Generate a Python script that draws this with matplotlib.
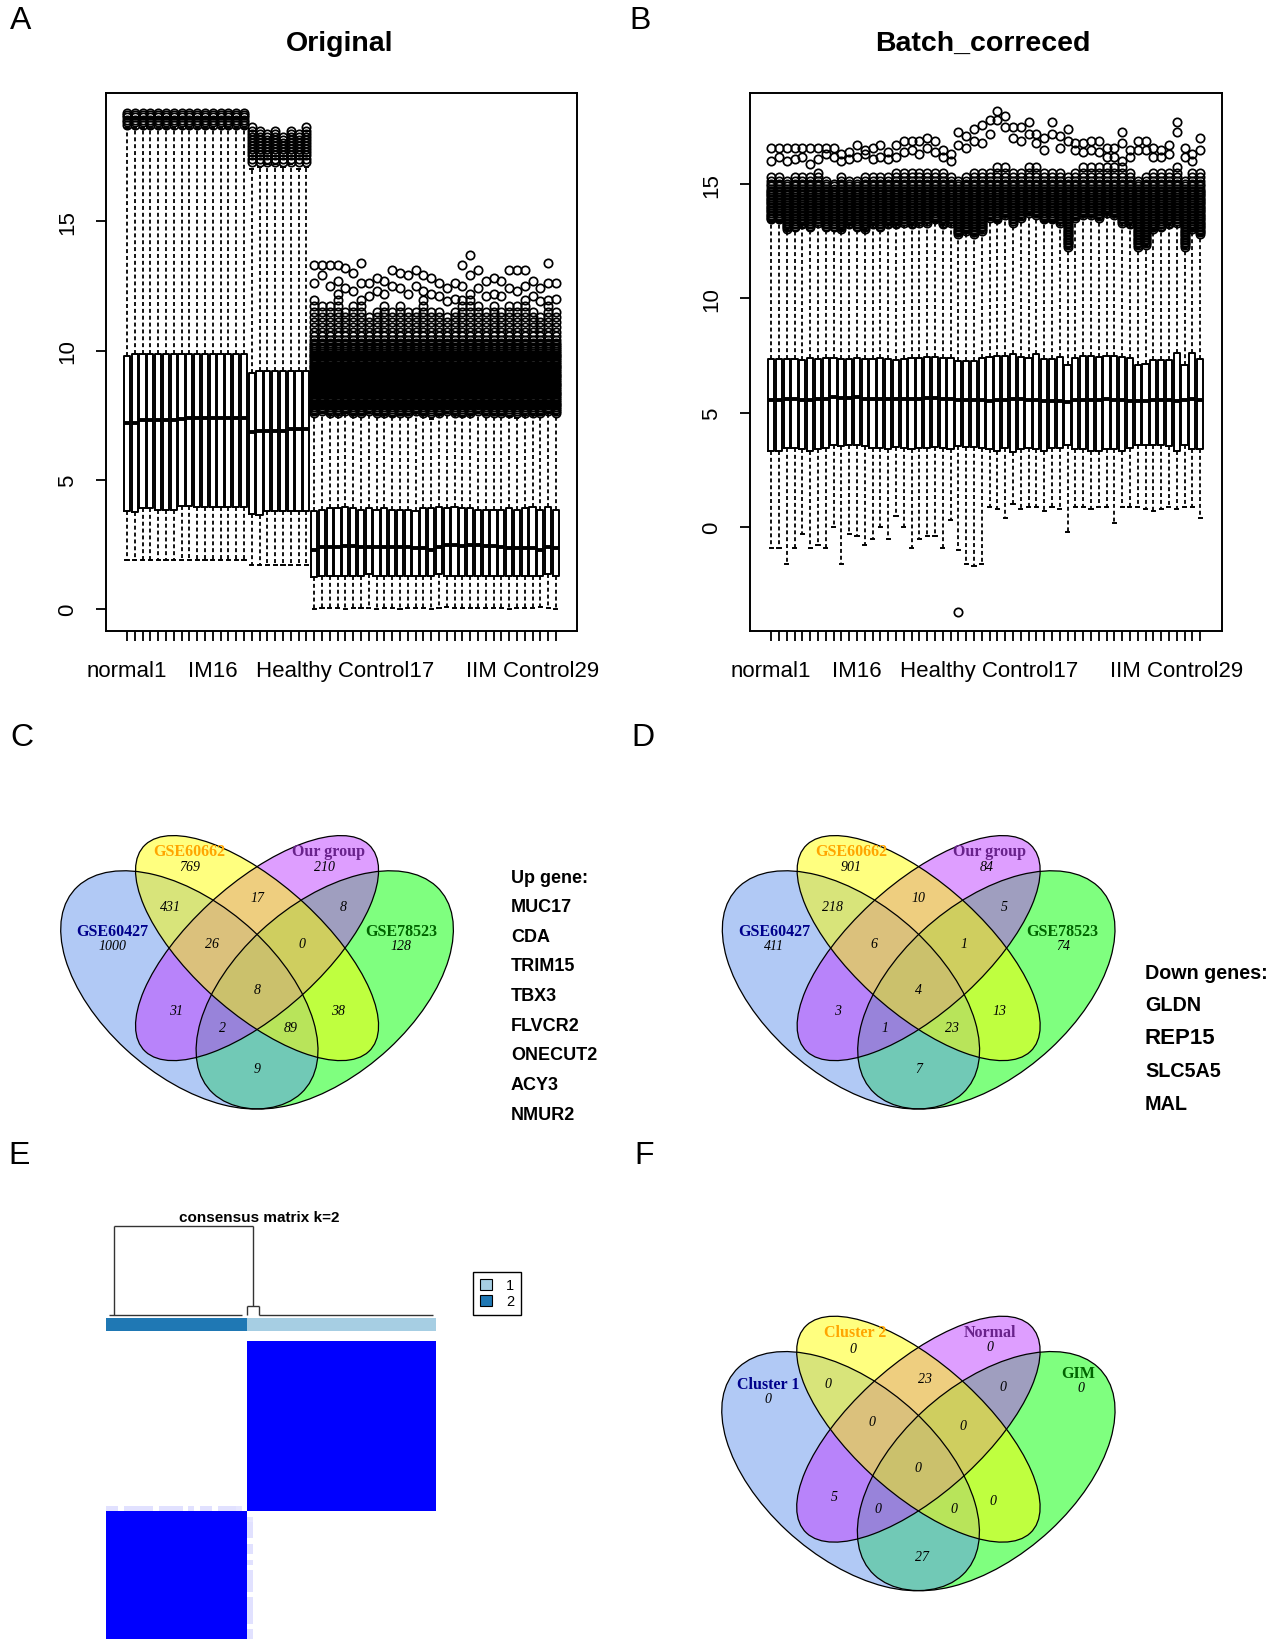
import numpy as np
import matplotlib
matplotlib.use("Agg")
import matplotlib.pyplot as plt
from matplotlib.patches import Ellipse, Patch
from matplotlib.colors import LinearSegmentedColormap

plt.rcParams["font.family"] = ["Liberation Sans", "DejaVu Sans"]

W, H = 1280, 1640

# ---------------- A: original expression, per-sample box stats ----------------
a_group_sizes = [16, 8, 32]
shown_labels = {1: "normal1", 12: "IM16", 29: "Healthy Control17", 53: "IIM Control29"}

a_q1 = [3.8, 3.75, 3.9, 3.9, 3.85, 3.85, 3.85, 4.0, 4.0, 3.95, 3.95, 3.95, 3.95, 3.95, 3.95, 3.95,
        3.7, 3.65, 3.8, 3.8, 3.8, 3.8, 3.8, 3.8,
        1.25, 1.3, 1.3, 1.3, 1.3, 1.3, 1.3, 1.35, 1.3, 1.3, 1.3, 1.3, 1.3, 1.3, 1.3, 1.3,
        1.35, 1.3, 1.3, 1.3, 1.3, 1.3, 1.3, 1.3, 1.3, 1.3, 1.3, 1.3, 1.3, 1.3, 1.35, 1.3]
a_med = [7.2, 7.2, 7.3, 7.3, 7.3, 7.3, 7.3, 7.35, 7.4, 7.4, 7.4, 7.4, 7.4, 7.4, 7.4, 7.4,
         6.85, 6.9, 6.9, 6.9, 6.9, 6.95, 6.95, 6.95,
         2.3, 2.4, 2.4, 2.4, 2.45, 2.45, 2.4, 2.4, 2.4, 2.4, 2.4, 2.4, 2.4, 2.35, 2.35, 2.3,
         2.4, 2.5, 2.5, 2.45, 2.5, 2.5, 2.45, 2.45, 2.4, 2.35, 2.35, 2.35, 2.35, 2.3, 2.4, 2.35]
a_q3 = [9.8, 9.85, 9.85, 9.85, 9.85, 9.85, 9.85, 9.85, 9.85, 9.85, 9.85, 9.85, 9.85, 9.85, 9.85, 9.85,
        9.15, 9.2, 9.2, 9.2, 9.2, 9.2, 9.2, 9.2,
        3.8, 3.85, 3.9, 3.9, 3.95, 3.9, 3.85, 3.9, 3.85, 3.9, 3.85, 3.85, 3.85, 3.8, 3.9, 3.9,
        3.95, 3.9, 3.95, 3.9, 3.9, 3.85, 3.85, 3.85, 3.85, 3.9, 3.85, 3.9, 3.95, 3.85, 3.95, 3.85]
a_lo = [1.9, 1.9, 1.9, 1.9, 1.9, 1.9, 1.9, 1.9, 1.9, 1.9, 1.9, 1.9, 1.9, 1.9, 1.9, 1.9,
        1.7, 1.7, 1.7, 1.7, 1.7, 1.7, 1.7, 1.7,
        0.0, 0.05, 0.05, 0.05, 0.0, 0.05, 0.05, 0.05, 0.0, 0.05, 0.05, 0.0, 0.05, 0.05, 0.05, 0.0,
        0.05, 0.1, 0.05, 0.05, 0.05, 0.05, 0.05, 0.05, 0.05, 0.0, 0.05, 0.05, 0.05, 0.1, 0.05, 0.0]
a_hi = [18.6, 18.6, 18.6, 18.6, 18.6, 18.6, 18.6, 18.6, 18.6, 18.6, 18.6, 18.6, 18.6, 18.6, 18.6, 18.6,
        17.0, 17.1, 17.2, 17.2, 17.1, 17.2, 17.0, 17.1,
        7.5, 7.6, 7.55, 7.55, 7.6, 7.5, 7.55, 7.6, 7.55, 7.5, 7.45, 7.5, 7.55, 7.6, 7.5, 7.35,
        7.5, 7.6, 7.55, 7.45, 7.5, 7.6, 7.5, 7.55, 7.5, 7.45, 7.4, 7.5, 7.55, 7.5, 7.6, 7.55]
# levels where outlier circles pile up, per group
a_dense_levels = [
    [18.72, 18.82, 18.92, 19.02, 19.12, 19.2],
    [17.3, 17.42, 17.54, 17.66, 17.78, 17.9, 18.02, 18.14, 18.26, 18.38, 18.5, 18.65],
    [7.6, 7.67, 7.74, 7.81, 7.88, 7.95, 8.02, 8.09, 8.16, 8.23, 8.3, 8.37, 8.44, 8.51, 8.58,
     8.65, 8.72, 8.79, 8.86, 8.93, 9.0, 9.07, 9.14, 9.21, 9.28, 9.35, 9.42, 9.49, 9.56, 9.63,
     9.7, 9.77, 9.84, 9.91, 9.98, 10.05, 10.12, 10.2, 10.3, 10.42, 10.56, 10.72, 10.9, 11.1,
     11.3, 11.5, 11.72, 11.95, 12.2],
]
a_dense_top = [19.2, 19.2, 19.2, 19.2, 19.2, 19.2, 19.2, 19.2, 19.2, 19.2, 19.2, 19.2, 19.2, 19.2, 19.2, 19.2,
               18.7, 18.5, 18.4, 18.5, 18.3, 18.5, 18.4, 18.7,
               12.0, 11.8, 11.9, 12.2, 11.6, 11.8, 12.0, 11.4, 11.7, 11.8, 11.6, 11.9, 11.7, 11.5, 12.0, 11.6,
               11.5, 11.3, 11.6, 12.0, 12.2, 11.9, 11.5, 11.8, 11.6, 11.9, 11.9, 12.0, 11.6, 11.3, 12.0, 11.5]
a_top1 = [None] * 24 + [
    13.3, 13.3, 13.3, 13.3, 13.2, 13.0, 13.4, 12.6, 12.8, 12.7, 13.1, 13.0, 12.9, 13.1, 12.9, 12.8,
    12.6, 12.4, 12.6, 13.3, 13.7, 13.1, 12.7, 12.8, 12.7, 13.1, 13.1, 13.1, 12.7, 12.4, 13.4, 12.6]
a_top2 = [None] * 24 + [
    12.6, 12.9, 12.5, 12.7, 12.4, 12.3, 12.6, 12.1, 12.3, 12.2, 12.5, 12.4, 12.2, 12.5, 12.3, 12.2,
    12.1, 11.9, 12.0, 12.5, 12.9, 12.4, 12.1, 12.2, 12.1, 12.4, 12.3, 12.5, 12.1, 11.9, 12.6, 12.0]

# ---------------- B: batch corrected ----------------
b_q1 = [3.35, 3.35, 3.45, 3.45, 3.4, 3.35, 3.4, 3.45, 3.6, 3.55, 3.6, 3.6, 3.55, 3.45, 3.45, 3.4,
        3.5, 3.45, 3.4, 3.45, 3.45, 3.5, 3.45, 3.4, 3.55, 3.5, 3.5, 3.45, 3.4, 3.35, 3.45, 3.3,
        3.4, 3.45, 3.4, 3.35, 3.45, 3.45, 3.6, 3.4, 3.4, 3.35, 3.35, 3.4, 3.4, 3.35, 3.45, 3.6,
        3.6, 3.6, 3.6, 3.55, 3.35, 3.6, 3.4, 3.4]
b_med = [5.55, 5.55, 5.6, 5.6, 5.55, 5.55, 5.6, 5.6, 5.7, 5.65, 5.65, 5.7, 5.6, 5.6, 5.6, 5.6,
         5.6, 5.6, 5.6, 5.6, 5.65, 5.65, 5.6, 5.6, 5.55, 5.55, 5.55, 5.55, 5.5, 5.55, 5.55, 5.6,
         5.6, 5.55, 5.55, 5.5, 5.5, 5.5, 5.45, 5.55, 5.55, 5.55, 5.55, 5.6, 5.55, 5.55, 5.5, 5.5,
         5.5, 5.55, 5.55, 5.55, 5.5, 5.55, 5.6, 5.55]
b_q3 = [7.35, 7.35, 7.35, 7.35, 7.3, 7.4, 7.35, 7.4, 7.4, 7.35, 7.35, 7.4, 7.35, 7.35, 7.4, 7.35,
        7.3, 7.35, 7.4, 7.4, 7.45, 7.45, 7.4, 7.4, 7.25, 7.25, 7.25, 7.4, 7.45, 7.5, 7.5, 7.55,
        7.45, 7.4, 7.55, 7.35, 7.35, 7.45, 7.1, 7.4, 7.5, 7.5, 7.45, 7.5, 7.5, 7.45, 7.4, 7.1,
        7.15, 7.3, 7.3, 7.3, 7.6, 7.1, 7.6, 7.35]
b_lo = [-0.9, -0.9, -1.6, -0.9, -0.3, -0.9, -0.8, -0.9, 0.0, -1.6, -0.3, -0.4, -0.8, -0.5, 0.0, -0.5,
        0.5, 0.0, -0.9, -0.5, -0.4, -0.4, -0.9, 0.3, -1.0, -1.6, -1.7, -1.6, 0.9, 0.8, 0.4, 1.0,
        0.8, 0.9, 0.9, 0.7, 0.9, 0.8, -0.2, 0.9, 0.9, 0.8, 0.9, 0.9, 0.2, 0.9, 0.9, 0.9,
        0.8, 0.7, 0.8, 0.9, 0.8, 0.9, 0.9, 0.4]
b_hi = [13.4, 13.4, 13.0, 13.1, 13.2, 13.1, 13.3, 13.1, 13.1, 13.0, 13.2, 13.1, 13.0, 13.2, 13.1, 13.2,
        13.2, 13.3, 13.2, 13.3, 13.3, 13.4, 13.2, 13.3, 12.8, 12.9, 12.8, 12.9, 13.5, 13.4, 13.6, 13.3,
        13.5, 13.7, 13.6, 13.4, 13.4, 13.3, 12.2, 13.5, 13.6, 13.6, 13.5, 13.7, 13.6, 13.3, 13.2, 12.2,
        12.3, 13.0, 13.1, 13.2, 13.3, 12.2, 13.0, 12.8]
b_dense_levels = [12.2, 12.27, 12.34, 12.41, 12.48, 12.55, 12.62, 12.69, 12.76, 12.83, 12.9, 12.97,
                  13.04, 13.11, 13.18, 13.25, 13.32, 13.39, 13.46, 13.53, 13.6, 13.67, 13.74, 13.81,
                  13.88, 13.95, 14.02, 14.09, 14.16, 14.23, 14.3, 14.37, 14.44, 14.51, 14.58, 14.65,
                  14.72, 14.8, 14.9, 15.0, 15.15, 15.3, 15.5, 15.75, 16.0]
b_dense_top = [15.4, 15.3, 15.2, 15.3, 15.3, 15.4, 15.5, 15.2, 15.1, 15.3, 15.2, 15.2, 15.3, 15.3, 15.4, 15.4,
               15.5, 15.6, 15.6, 15.6, 15.6, 15.5, 15.5, 15.3, 15.2, 15.3, 15.5, 15.6, 15.7, 15.8, 15.8, 15.6,
               15.7, 15.8, 15.8, 15.6, 15.5, 15.5, 15.3, 15.7, 15.8, 15.9, 15.8, 15.8, 15.9, 16.0, 15.6, 15.2,
               15.4, 15.6, 15.6, 15.7, 15.8, 15.2, 15.6, 15.6]
b_top1 = [16.6, 16.6, 16.6, 16.6, 16.6, 16.6, 16.6, 16.6, 16.6, 16.3, 16.4, 16.7, 16.5, 16.6, 16.7, 16.4,
          16.7, 16.9, 16.9, 16.9, 17.0, 16.9, 16.5, 16.3, 17.3, 17.1, 17.4, 17.6, 17.8, 18.2, 18.0, 17.5,
          17.5, 17.7, 17.2, 17.0, 17.7, 17.1, 17.4, 16.8, 16.8, 16.9, 16.9, 16.6, 16.6, 17.3, 16.5, 16.9,
          16.9, 16.6, 16.5, 16.7, 17.7, 16.6, 16.3, 17.0]
b_top2 = [16.0, 16.2, 16.0, 16.1, 16.2, 15.9, 16.1, 16.3, 16.2, 16.0, 16.1, 16.2, 16.3, 16.1, 16.2, 16.1,
          16.2, 16.4, 16.5, 16.3, 16.6, 16.4, 16.2, 16.0, 16.7, 16.6, 16.9, 16.8, 17.2, 17.8, 17.5, 17.0,
          16.9, 17.2, 16.8, 16.5, 17.2, 16.6, 16.9, 16.5, 16.4, 16.5, 16.4, 16.2, 16.2, 16.8, 16.2, 16.5,
          16.5, 16.2, 16.2, 16.3, 17.3, 16.2, 16.0, 16.5]
b_low_outlier = {25: -3.7}

# ---------------- C / D / F: Venn counts ----------------
c_sets = ["GSE60427", "GSE60662", "Our group", "GSE78523"]
c_only = [1000, 769, 210, 128]
c_regions = [431, 17, 8, 26, 0, 8, 31, 38, 2, 89, 9]
up_genes = ["MUC17", "CDA", "TRIM15", "TBX3", "FLVCR2", "ONECUT2", "ACY3", "NMUR2"]

d_sets = ["GSE60427", "GSE60662", "Our group", "GSE78523"]
d_only = [411, 901, 84, 74]
d_regions = [218, 10, 5, 6, 1, 4, 3, 13, 1, 23, 7]
down_genes = ["GLDN", "REP15", "SLC5A5", "MAL"]

f_sets = ["Cluster 1", "Cluster 2", "Normal", "GIM"]
f_only = [0, 0, 0, 0]
f_regions = [0, 23, 0, 0, 0, 0, 5, 0, 0, 0, 27]

# ---------------- E: consensus clustering k=2 ----------------
cluster_sizes = [24, 32]
cluster_ids = [2, 1]
# consensus of the first cluster-1 sample with every cluster-2 sample
edge_sample_consensus = [0.12, 0.12, 0.0, 0.12, 0.12, 0.12, 0.12, 0.12, 0.0, 0.12, 0.12, 0.12,
                         0.12, 0.0, 0.12, 0.0, 0.12, 0.12, 0.0, 0.12, 0.12, 0.12, 0.1, 0.0]
dendro_x = [[1.41, 1.41], [24.94, 24.94], [1.41, 24.94], [24.03, 24.03], [26.07, 26.07],
            [24.03, 26.07], [0.61, 23.1], [26.07, 55.59]]
dendro_h = [[0, 1], [0.104, 1], [1, 1], [0, 0.104], [0, 0.104],
            [0.104, 0.104], [0, 0], [0, 0]]

fig = plt.figure(figsize=(W / 100, H / 100), dpi=100)


def px_axes(left, top, right, bottom):
    return fig.add_axes([left / W, 1 - bottom / H, (right - left) / W, (bottom - top) / H])


def ftext(x, y, s, **kw):
    fig.text(x / W, 1 - y / H, s, **kw)


def box_panel(ax, q1, med, q3, lo, hi, fliers, ylim, yticks):
    n = len(med)
    stats = [dict(med=med[i], q1=q1[i], q3=q3[i], whislo=lo[i], whishi=hi[i], fliers=fliers[i])
             for i in range(n)]
    pos = np.arange(1, n + 1)
    ax.bxp(stats, positions=pos, widths=0.8, capwidths=0.4,
           boxprops=dict(lw=1.4, color="black"),
           medianprops=dict(lw=2.8, color="black"),
           whiskerprops=dict(lw=1.3, color="black", ls=(0, (2.2, 1.6))),
           capprops=dict(lw=1.4, color="black"),
           flierprops=dict(marker="o", mfc="none", mec="black", ms=6.0, mew=1.25))
    ax.set_xlim(0.5 - 0.04 * n, n + 0.5 + 0.04 * n)
    ax.set_ylim(*ylim)
    ax.set_xticks(pos)
    ax.set_xticklabels([shown_labels.get(p, "") for p in pos], fontsize=16)
    ax.set_yticks(yticks)
    ax.set_yticklabels([str(t) for t in yticks], fontsize=16, rotation=90, va="center")
    ax.tick_params(axis="x", length=7, width=1.3, pad=14)
    ax.tick_params(axis="y", length=7, width=1.3, pad=13)
    for s in ax.spines.values():
        s.set_linewidth(1.4)


# panel A
a_group = sum([[g] * n for g, n in enumerate(a_group_sizes)], [])
a_fliers = []
for i in range(len(a_med)):
    pts = [v for v in a_dense_levels[a_group[i]] if a_hi[i] < v <= a_dense_top[i]]
    pts += [v for v in (a_top1[i], a_top2[i]) if v is not None]
    a_fliers.append(pts)
ax_a = px_axes(105.6, 94.1, 577.3, 631.7)
box_panel(ax_a, a_q1, a_med, a_q3, a_lo, a_hi, a_fliers, (-0.83, 19.95), [0, 5, 10, 15])

# panel B
b_fliers = []
for i in range(len(b_med)):
    pts = [v for v in b_dense_levels if b_hi[i] < v <= b_dense_top[i]] + [b_top1[i], b_top2[i]]
    if i + 1 in b_low_outlier:
        pts.append(b_low_outlier[i + 1])
    b_fliers.append(pts)
ax_b = px_axes(749.8, 94.1, 1221.5, 631.7)
box_panel(ax_b, b_q1, b_med, b_q3, b_lo, b_hi, b_fliers, (-4.53, 18.98), [0, 5, 10, 15])

ftext(340, 44, "Original", fontsize=20.5, fontweight="bold", ha="center", va="center")
ftext(983, 44, "Batch_correced", fontsize=20.5, fontweight="bold", ha="center", va="center")

# ---------------- Venn panels ----------------
ell_fill = ["#6495ED", "#FFFF00", "#BF3EFF", "#00FF00"]   # cornflowerblue, yellow, darkorchid1, green
name_colors = ["#00008B", "#FFA500", "#68228B", "#006400"]
ellipses = [((0.35, 0.47), 0.70, 0.40, -45), ((0.50, 0.57), 0.70, 0.30, -45),
            ((0.50, 0.57), 0.70, 0.30, 45), ((0.65, 0.47), 0.70, 0.40, 45)]
draw_order = [3, 0, 2, 1]

cd_name_pos = [(0.180, 0.611), (0.350, 0.803), (0.658, 0.803), (0.819, 0.611)]
cd_only_pos = [(0.180, 0.577), (0.350, 0.766), (0.650, 0.766), (0.820, 0.577)]
cd_region_pos = [(0.309, 0.670), (0.5, 0.690), (0.690, 0.670), (0.401, 0.580), (0.600, 0.580),
                 (0.5, 0.470), (0.320, 0.420), (0.680, 0.420), (0.4245, 0.380), (0.575, 0.380),
                 (0.5, 0.281)]
f_name_pos = [(0.168, 0.678), (0.360, 0.801), (0.658, 0.801), (0.854, 0.704)]
f_only_pos = [(0.168, 0.642), (0.356, 0.763), (0.658, 0.766), (0.860, 0.670)]
f_region_pos = [(0.301, 0.680), (0.515, 0.692), (0.686, 0.672), (0.398, 0.589), (0.599, 0.578),
                (0.500, 0.478), (0.315, 0.410), (0.666, 0.401), (0.411, 0.380), (0.579, 0.380),
                (0.507, 0.266)]


def venn4(ax, names, only, regions, name_pos, only_pos, region_pos):
    for k in draw_order:
        c, w, h, ang = ellipses[k]
        ax.add_patch(Ellipse(c, w, h, angle=ang, fc=ell_fill[k], alpha=0.5, lw=0))
    for k in range(4):
        c, w, h, ang = ellipses[k]
        ax.add_patch(Ellipse(c, w, h, angle=ang, fill=False, ec="black", lw=0.9))
    serif = ["Liberation Serif", "DejaVu Serif"]
    for k in range(4):
        ax.text(*name_pos[k], names[k], color=name_colors[k], fontsize=11.5, fontweight="bold",
                family=serif, ha="center", va="center")
        ax.text(*only_pos[k], str(only[k]), fontsize=10, style="italic", family=serif,
                ha="center", va="center")
    for p, v in zip(region_pos, regions):
        ax.text(*p, str(v), fontsize=10, style="italic", family=serif, ha="center", va="center")
    ax.set_xlim(0, 1)
    ax.set_ylim(0, 1)
    ax.axis("off")


ax_c = px_axes(31.4, 769.4, 482.7, 1187.3)
venn4(ax_c, c_sets, c_only, c_regions, cd_name_pos, cd_only_pos, cd_region_pos)
ax_d = px_axes(693.0, 769.4, 1144.3, 1187.3)
venn4(ax_d, d_sets, d_only, d_regions, cd_name_pos, cd_only_pos, cd_region_pos)
ax_f = px_axes(692.4, 1249.8, 1144.4, 1669.3)
venn4(ax_f, f_sets, f_only, f_regions, f_name_pos, f_only_pos, f_region_pos)

ftext(511, 878.5, "Up gene:", fontsize=13, fontweight="bold", ha="left", va="center")
for i, g in enumerate(up_genes):
    ftext(511, 907.8 + 29.6 * i, g, fontsize=13, fontweight="bold", ha="left", va="center")
ftext(1145, 973.6, "Down genes:", fontsize=14.2, fontweight="bold", ha="left", va="center")
for i, g in enumerate(down_genes):
    ftext(1145, 1006 + 32.8 * i, g, fontsize=16 if g == "REP15" else 14.2,
          fontweight="bold", ha="left", va="center")

# ---------------- E: consensus matrix ----------------
n_e = sum(cluster_sizes)
memb = np.repeat(cluster_ids, cluster_sizes)
cons = (memb[:, None] == memb[None, :]).astype(float)
first1 = cluster_sizes[0]
cons[first1, :first1] = edge_sample_consensus
cons[:first1, first1] = edge_sample_consensus

ax_e = px_axes(105.7, 1341.7, 435.7, 1641)
cmap = LinearSegmentedColormap.from_list("wb", ["white", "#0000FF"])
ax_e.imshow(cons[::-1], cmap=cmap, vmin=0, vmax=1, extent=(0, n_e, n_e, 0),
            aspect="auto", interpolation="nearest")
ax_e.set_xlim(0, n_e)
ax_e.set_ylim(n_e, 0)
ax_e.axis("off")

clus_colors = {1: "#A6CEE3", 2: "#1F78B4"}
ax_cb = px_axes(105.7, 1319.3, 435.7, 1331.7)
for i, m in enumerate(memb):
    ax_cb.bar(i + 0.5, 1, width=1.0, color=clus_colors[m], lw=0)
ax_cb.set_xlim(0, n_e)
ax_cb.set_ylim(0, 1)
ax_cb.axis("off")

ax_dn = px_axes(105.7, 1226.7, 435.7, 1316)
for xs, hs in zip(dendro_x, dendro_h):
    ax_dn.plot(xs, hs, color="#333333", lw=1.0, clip_on=False, solid_capstyle="butt")
ax_dn.set_xlim(0, n_e)
ax_dn.set_ylim(0, 1)
ax_dn.axis("off")

ftext(259, 1218, "consensus matrix k=2", fontsize=11, fontweight="bold", ha="center", va="center")
fig.legend(handles=[Patch(fc=clus_colors[1], ec="black", lw=0.8),
                    Patch(fc=clus_colors[2], ec="black", lw=0.8)],
           labels=["1", "2"], loc="upper left", bbox_to_anchor=(473.3 / W, 1 - 1272.7 / H),
           fontsize=10.5, frameon=True, fancybox=False, edgecolor="black", framealpha=1,
           handlelength=0.8, handleheight=0.8, borderpad=0.45, labelspacing=0.15,
           handletextpad=1.0, borderaxespad=0)

# panel letters
for (x, y), s in zip([(21, 21), (640, 21), (22, 738), (643, 738), (19, 1156), (644, 1156)],
                     ["A", "B", "C", "D", "E", "F"]):
    ftext(x, y, s, fontsize=23, ha="center", va="center")

fig.savefig("out.png", dpi=100)
